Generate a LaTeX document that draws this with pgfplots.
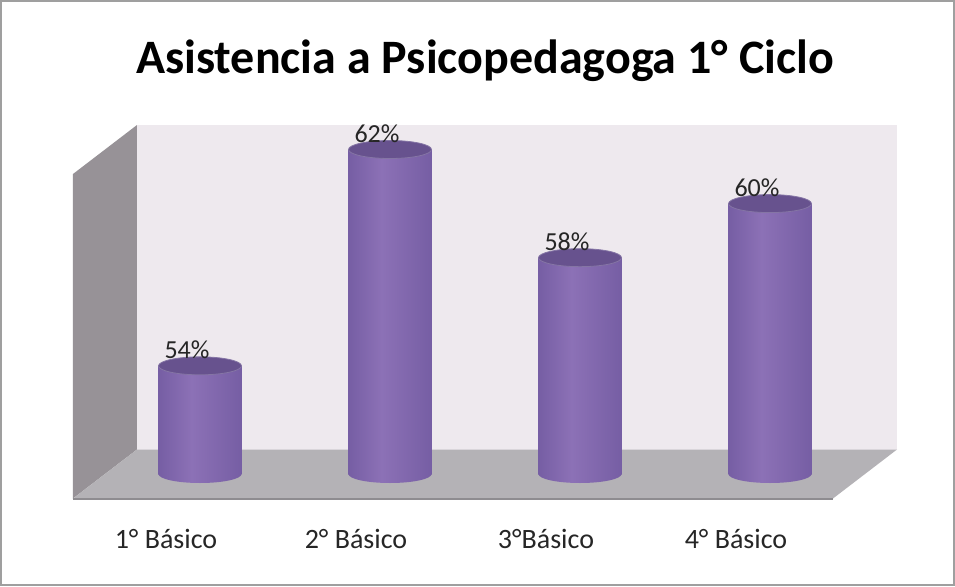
\documentclass[border=0pt]{standalone}
\usepackage{fontspec}
\setmainfont{Carlito}
\usepackage{pgfplots}
\usepackage{pgfplotstable}
\pgfplotsset{compat=1.18}
\definecolor{backwall}{HTML}{EEE9EE}
\definecolor{sidewall}{HTML}{979297}
\definecolor{floorc}{HTML}{B4B2B6}
\definecolor{flooredge}{HTML}{8E8C90}
\definecolor{cylA}{HTML}{4F3C72}
\definecolor{cylB}{HTML}{765EA4}
\definecolor{cylC}{HTML}{8C71B6}
\definecolor{cylD}{HTML}{4A3868}
\definecolor{cyltopc}{HTML}{67528E}
\pgfdeclarehorizontalshading{cyl}{100bp}{color(0bp)=(cylA); color(25bp)=(cylB); color(45bp)=(cylC); color(75bp)=(cylB); color(100bp)=(cylD)}
\pgfdeclareplotmark{cyltop}{%
  \pgfsetfillcolor{cyltopc}\pgfsetstrokecolor{cyltopc!80!white}\pgfsetlinewidth{0.4pt}%
  \pgfpathellipse{\pgfpointorigin}{\pgfpoint{20.75pt}{0pt}}{\pgfpoint{0pt}{4.5pt}}%
  \pgfusepath{fill,stroke}}
\pgfdeclareplotmark{cylbot}{%
  \pgfpathmoveto{\pgfpoint{-20.75pt}{0pt}}%
  \pgfpatharc{180}{360}{20.75pt and 4.5pt}%
  \pgfpathclose
  \pgfshadepath{cyl}{0}%
  \pgfusepath{discard}}
\pgfplotstableread{
x val
1 54
2 62
3 58
4 60
}\datatable
\begin{document}
\begin{tikzpicture}
\useasboundingbox (0,0) rectangle (477.5pt,293pt);
\fill[white] (0,0) rectangle (477.5pt,293pt);
\draw[color=gray!75, line width=1pt] (0.5pt,0.5pt) rectangle (477pt,292.5pt);
\node[anchor=base, font=\fontsize{24}{29}\selectfont\bfseries] at (242.5pt,256.5pt) {Asistencia a Psicopedagoga 1° Ciclo};
\begin{axis}[
  at={(52.5pt,56pt)}, anchor=south west,
  scale only axis, width=380pt, height=162.25pt,
  xmin=0.5, xmax=4.5, ymin=0, ymax=12,
  clip=false,
  y filter/.expression={y-50},
  axis line style={draw=none}, major tick length=0pt,
  ytick=\empty,
  xtick={1,2,3,4},
  xticklabels={1° Básico, 2° Básico, 3°Básico, 4° Básico},
  xticklabel style={anchor=base, xshift=-17pt, yshift=-37pt, font=\fontsize{14}{16}\selectfont, text=black!85},
  /pgf/number format/assume math mode=true,
  cylbar/.style={ybar, bar width=41.5pt, bar shift=0pt, draw=none, shading=cyl, forget plot},
]
% walls
\fill[sidewall] ([shift={(-16pt,-12.25pt)}]rel axis cs:0,0) -- ([shift={(16pt,12.25pt)}]rel axis cs:0,0) -- ([shift={(16pt,12.25pt)}]rel axis cs:0,1) -- ([shift={(-16pt,-12.25pt)}]rel axis cs:0,1) -- cycle;
\fill[backwall] ([shift={(16pt,12.25pt)}]rel axis cs:0,0) rectangle ([shift={(16pt,12.25pt)}]rel axis cs:1,1);
\fill[floorc] ([shift={(-16pt,-12.25pt)}]rel axis cs:0,0) -- ([shift={(-16pt,-12.25pt)}]rel axis cs:1,0) -- ([shift={(16pt,12.25pt)}]rel axis cs:1,0) -- ([shift={(16pt,12.25pt)}]rel axis cs:0,0) -- cycle;
\draw[flooredge, line width=1pt] ([shift={(-16pt,-12.25pt)}]rel axis cs:0,0) -- ([shift={(-16pt,-12.25pt)}]rel axis cs:1,0);
% cylinders: bottom caps, bodies, top caps
\addplot[only marks, mark=cylbot] coordinates {(1,50) (2,50) (3,50) (4,50)};
\addplot[cylbar] coordinates {(1,54)};
\addplot[cylbar] coordinates {(2,62)};
\addplot[cylbar] coordinates {(3,58)};
\addplot[cylbar] coordinates {(4,60)};
\addplot[only marks, mark=cyltop, point meta=rawy,
  nodes near coords={\pgfmathprintnumber{\pgfplotspointmeta}\%},
  every node near coord/.append style={anchor=base, xshift=-6.5pt, yshift=3.5pt, font=\fontsize{13}{15}\selectfont, text=black!85}
] table[x=x, y=val] {\datatable};
\end{axis}
\end{tikzpicture}
\end{document}
